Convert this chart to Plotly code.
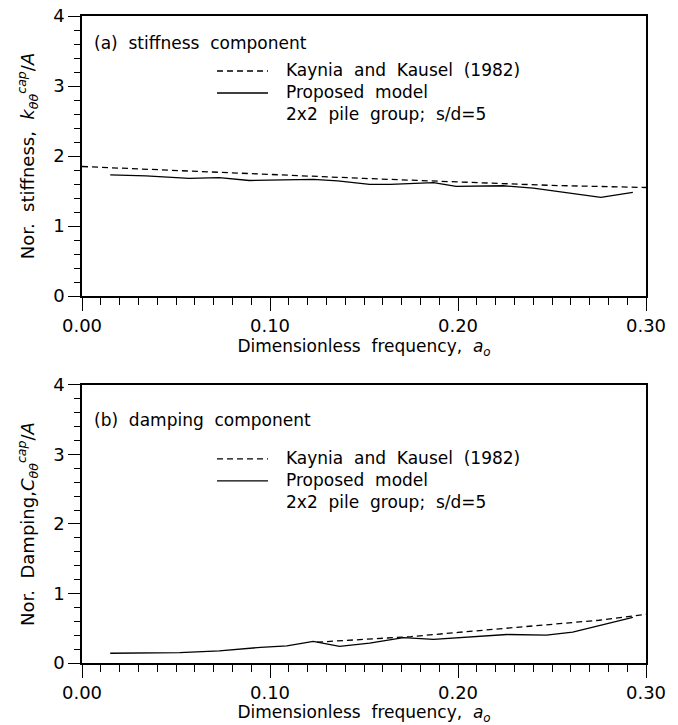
import plotly.graph_objects as go
from plotly.subplots import make_subplots

# ---------------- data ----------------
kk_stiff_freq = [0.0, 0.05, 0.10, 0.15, 0.20, 0.25, 0.30]
kk_stiff_val = [1.85, 1.79, 1.74, 1.68, 1.63, 1.58, 1.55]

pm_stiff_freq = [0.015, 0.034, 0.057, 0.073, 0.089, 0.104, 0.123, 0.136, 0.153,
                 0.164, 0.187, 0.199, 0.224, 0.240, 0.254, 0.276, 0.293]
pm_stiff_val = [1.73, 1.715, 1.68, 1.69, 1.65, 1.655, 1.665, 1.645, 1.595,
                1.595, 1.62, 1.565, 1.575, 1.54, 1.49, 1.41, 1.48]

kk_damp_freq = [0.125, 0.15, 0.175, 0.20, 0.225, 0.25, 0.275, 0.30]
kk_damp_val = [0.30, 0.335, 0.38, 0.44, 0.50, 0.555, 0.615, 0.70]

pm_damp_freq = [0.015, 0.052, 0.073, 0.095, 0.109, 0.123, 0.137, 0.153, 0.171,
                0.187, 0.226, 0.247, 0.261, 0.279, 0.293]
pm_damp_val = [0.14, 0.15, 0.175, 0.225, 0.245, 0.31, 0.24, 0.285, 0.365,
               0.34, 0.41, 0.40, 0.445, 0.565, 0.655]

x_ticks = [0.0, 0.1, 0.2, 0.3]
x_tick_labels = ["0.00", "0.10", "0.20", "0.30"]
y_ticks = [0, 1, 2, 3, 4]

legend_lines = ["Kaynia &nbsp;and &nbsp;Kausel &nbsp;(1982)",
                "Proposed &nbsp;model",
                "2x2 &nbsp;pile &nbsp;group; &nbsp;s/d=5"]
panel_labels = ["(a) &nbsp;stiffness &nbsp;component", "(b) &nbsp;damping &nbsp;component"]
x_title = "Dimensionless &nbsp;frequency, &nbsp;<i>a</i><sub><i>o</i></sub>"
y_titles = ["Nor. &nbsp;stiffness, &nbsp;<i>k</i><sub><i>θθ</i></sub><sup><i>cap</i></sup>/<i>A</i>",
            "Nor. &nbsp;Damping,<i>C</i><sub><i>θθ</i></sub><sup><i>cap</i></sup>/<i>A</i>"]

FONT = "DejaVu Sans"

# ---------------- figure ----------------
fig = make_subplots(rows=2, cols=1, vertical_spacing=0.0)

dash_style = dict(color="black", width=1.3, dash="6px,4px")
solid_style = dict(color="black", width=1.3)

fig.add_trace(go.Scatter(x=kk_stiff_freq, y=kk_stiff_val, mode="lines",
                         line=dash_style, showlegend=False), row=1, col=1)
fig.add_trace(go.Scatter(x=pm_stiff_freq, y=pm_stiff_val, mode="lines",
                         line=solid_style, showlegend=False), row=1, col=1)
fig.add_trace(go.Scatter(x=kk_damp_freq, y=kk_damp_val, mode="lines",
                         line=dash_style, showlegend=False), row=2, col=1)
fig.add_trace(go.Scatter(x=pm_damp_freq, y=pm_damp_val, mode="lines",
                         line=solid_style, showlegend=False), row=2, col=1)

axis_common = dict(showline=True, linecolor="black", linewidth=1.5, mirror=True,
                   ticks="outside", tickcolor="black", tickwidth=1.3,
                   showgrid=False, zeroline=False, automargin=False,
                   tickfont=dict(family=FONT, size=18, color="black"))

for r, (dom, ytitle) in enumerate(zip([[0.5672, 1.0], [0.0, 0.4297]], y_titles), start=1):
    fig.update_xaxes(range=[0, 0.30], tickvals=x_ticks, ticktext=x_tick_labels,
                     ticklen=13,
                     minor=dict(dtick=0.01, ticks="outside", ticklen=7,
                                tickcolor="black", tickwidth=1.2, showgrid=False),
                     title=dict(text=x_title, font=dict(family=FONT, size=17, color="black"),
                                standoff=0),
                     **axis_common, row=r, col=1)
    fig.update_yaxes(range=[0, 4], tickvals=y_ticks, ticklen=12, domain=dom,
                     minor=dict(dtick=0.2, ticks="outside", ticklen=6,
                                tickcolor="black", tickwidth=1.2, showgrid=False),
                     title=dict(text=ytitle, font=dict(family=FONT, size=18, color="black"),
                                standoff=14),
                     **axis_common, row=r, col=1)

# ---------------- legends / panel labels (drawn inside each panel) ----------------
layout_pos = {
    1: dict(label_y=0.902, dash_y=0.8036, solid_y=0.725, text_y=0.7286),
    2: dict(label_y=0.874, dash_y=0.734, solid_y=0.655, text_y=0.658),
}
for r in (1, 2):
    xr = "x domain" if r == 1 else "x2 domain"
    yr = "y domain" if r == 1 else "y2 domain"
    p = layout_pos[r]
    fig.add_annotation(x=0.0177, y=p["label_y"], xref=xr, yref=yr, text=panel_labels[r - 1],
                       showarrow=False, xanchor="left", yanchor="middle",
                       font=dict(family=FONT, size=17, color="black"))
    fig.add_annotation(x=0.358, y=p["text_y"], xref=xr, yref=yr,
                       text="<br>".join(legend_lines), align="left",
                       showarrow=False, xanchor="left", yanchor="middle",
                       font=dict(family=FONT, size=17, color="black"))
    fig.add_shape(type="line", xref=xr, yref=yr, x0=0.2394, x1=0.3298,
                  y0=p["dash_y"], y1=p["dash_y"], line=dash_style)
    fig.add_shape(type="line", xref=xr, yref=yr, x0=0.2394, x1=0.3298,
                  y0=p["solid_y"], y1=p["solid_y"], line=solid_style)

fig.update_layout(width=678, height=725,
                  margin=dict(l=82, r=32, t=16, b=62),
                  paper_bgcolor="white", plot_bgcolor="white",
                  font=dict(family=FONT, color="black"),
                  showlegend=False)

fig.write_html("out.html")
